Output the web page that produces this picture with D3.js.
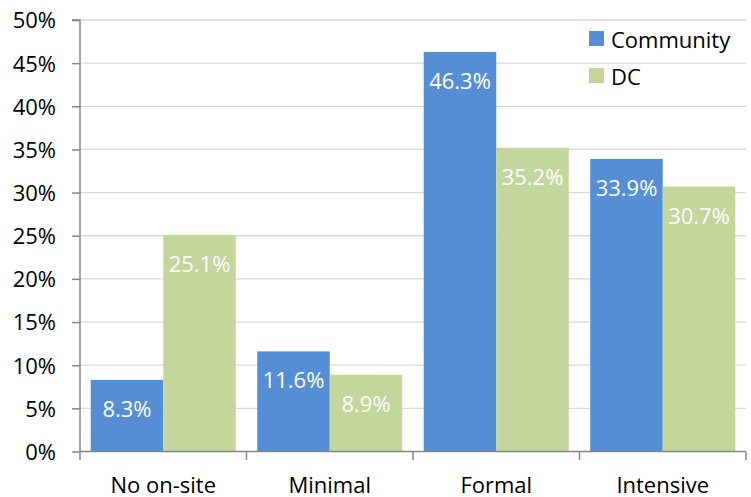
<!DOCTYPE html>
<html>
<head>
<meta charset="utf-8">
<script src="https://cdn.jsdelivr.net/npm/d3@7"></script>
<style>
  html, body { margin: 0; padding: 0; background: #fff; }
  svg { display: block; font-family: "Open Sans", "Noto Sans", sans-serif; }
</style>
</head>
<body>
<svg id="chart" width="751" height="497"></svg>
<script>
// Share of residents by level of on-site support
const categories = ["No on-site", "Minimal", "Formal", "Intensive"];
const seriesNames = ["Community", "DC"];
const communityValues = [8.3, 11.6, 46.3, 33.9];
const dcValues = [25.1, 8.9, 35.2, 30.7];
const yTicks = [0, 5, 10, 15, 20, 25, 30, 35, 40, 45, 50];
const colors = ["#558ED5", "#C3D69B"];

const svg = d3.select("#chart");
const plotLeft = 80, plotRight = 746, plotTop = 20, plotBottom = 451.5;
const fontSize = 22;

const x0 = d3.scaleBand().domain(categories).range([plotLeft, plotRight]).paddingInner(0).paddingOuter(0);
const x1 = d3.scaleBand().domain(seriesNames).range([0, x0.bandwidth()]).paddingInner(0).paddingOuter(0.148);
const y = d3.scaleLinear().domain([0, 50]).range([plotBottom, plotTop]);
const color = d3.scaleOrdinal().domain(seriesNames).range(colors);

// horizontal gridlines
svg.append("g")
  .selectAll("line")
  .data(yTicks.filter(t => t > 0))
  .join("line")
  .attr("x1", plotLeft).attr("x2", plotRight)
  .attr("y1", d => y(d)).attr("y2", d => y(d))
  .attr("stroke", "#D9D9D9").attr("stroke-width", 1.3);

// bars
const rows = categories.map((c, i) => ({ cat: c, vals: [communityValues[i], dcValues[i]] }));
const groups = svg.append("g").selectAll("g")
  .data(rows).join("g")
  .attr("transform", d => `translate(${x0(d.cat)},0)`);

groups.selectAll("rect")
  .data(d => d.vals.map((v, j) => ({ name: seriesNames[j], v })))
  .join("rect")
  .attr("x", d => x1(d.name))
  .attr("width", x1.bandwidth())
  .attr("y", d => y(d.v))
  .attr("height", d => y(0) - y(d.v))
  .attr("fill", d => color(d.name));

// value labels inside the bars
groups.selectAll("text")
  .data(d => d.vals.map((v, j) => ({ name: seriesNames[j], v })))
  .join("text")
  .attr("x", d => x1(d.name) + x1.bandwidth() / 2)
  .attr("y", d => y(d.v) + 37)
  .attr("text-anchor", "middle")
  .attr("fill", "#fff")
  .attr("font-size", fontSize)
  .text(d => d.v.toFixed(1) + "%");

// y axis
const yAxis = svg.append("g")
  .attr("transform", `translate(${plotLeft},0)`)
  .call(d3.axisLeft(y).tickValues(yTicks).tickFormat(d => d + "%").tickSize(8).tickPadding(16));
yAxis.select(".domain").attr("stroke", "#868686").attr("stroke-width", 1.5).attr("d", `M-8,${plotTop}H0V${plotBottom}`);
yAxis.selectAll(".tick line").attr("stroke", "#868686").attr("stroke-width", 1.5);
yAxis.selectAll(".tick text")
  .attr("font-size", fontSize).attr("fill", "#000")
  .attr("font-family", "'Open Sans', sans-serif")
  .attr("dy", "0.36em");

// x axis with category boundary ticks
const xAxis = svg.append("g").attr("transform", `translate(0,${plotBottom})`);
xAxis.append("line").attr("x1", plotLeft).attr("x2", plotRight).attr("y1", 0).attr("y2", 0)
  .attr("stroke", "#868686").attr("stroke-width", 1.5);
const boundaries = categories.map(c => x0(c)).concat([plotRight]);
xAxis.selectAll(".bound").data(boundaries).join("line")
  .attr("class", "bound")
  .attr("x1", d => d).attr("x2", d => d).attr("y1", 0).attr("y2", 8.5)
  .attr("stroke", "#868686").attr("stroke-width", 1.5);
xAxis.selectAll(".lab").data(categories).join("text")
  .attr("class", "lab")
  .attr("x", d => x0(d) + x0.bandwidth() / 2)
  .attr("y", 41.5)
  .attr("text-anchor", "middle")
  .attr("font-size", fontSize)
  .attr("fill", "#000")
  .text(d => d);

// legend
const legend = svg.append("g").attr("transform", "translate(589,31)");
const items = legend.selectAll("g").data(seriesNames).join("g")
  .attr("transform", (d, i) => `translate(0,${i * 37})`);
items.append("rect").attr("width", 15).attr("height", 15).attr("fill", d => color(d));
items.append("text").attr("x", 22).attr("y", 16.5)
  .attr("font-size", fontSize).attr("fill", "#000").text(d => d);
</script>
</body>
</html>
